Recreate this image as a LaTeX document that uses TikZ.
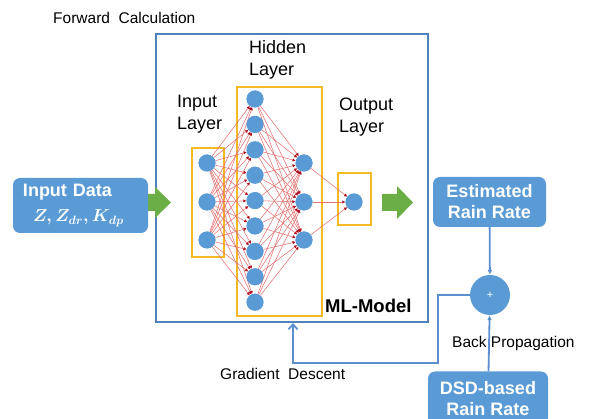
\documentclass[tikz,border=0pt]{standalone}
\usepackage{fontspec}
\setmainfont{Liberation Sans}
\usetikzlibrary{arrows.meta}
\definecolor{nblue}{HTML}{5B9BD5}
\definecolor{mlblue}{HTML}{4F81BD}
\definecolor{lblue}{HTML}{5B8FD0}
\definecolor{ybox}{HTML}{F5B921}
\definecolor{garrow}{HTML}{6AAE45}
\definecolor{wred}{HTML}{E57373}
\definecolor{dred}{HTML}{B01020}
\begin{document}
\begin{tikzpicture}[x=1pt,y=-1pt,
  neuron/.style={circle,fill=nblue,inner sep=0pt,minimum size=17pt},
  layerbox/.style={draw=ybox,line width=1.8pt},
  wire/.style={draw=wred,line width=0.55pt,-{Latex[length=3pt,width=3.5pt,color=dred]}},
  databox/.style={fill=nblue,rounded corners=7pt,text=white,font=\fontsize{18}{21}\selectfont\bfseries,inner sep=0pt},
  lbl/.style={font=\fontsize{18}{22}\selectfont,align=left,inner sep=0pt},
  sml/.style={font=\fontsize{15.5}{18}\selectfont,inner sep=0pt},
  fb/.style={draw=lblue,line width=1.8pt},
  fbarrow/.style={fb,-{Straight Barb[length=5pt,width=9pt]}},
  inarrow/.style={fb,-{Latex[length=5pt,width=5pt]}}
]
\useasboundingbox (0,0) rectangle (590,419);

% ML model frame
\node[draw=mlblue,line width=2pt,minimum width=272pt,minimum height=288pt,inner sep=0pt] (ml) at (292,178) {};

% layer boxes
\node[layerbox,minimum width=32pt,minimum height=109pt,inner sep=0pt] (ibox) at (208,202.5) {};
\node[layerbox,minimum width=85pt,minimum height=229pt,inner sep=0pt] (hbox) at (279.5,201.5) {};
\node[layerbox,minimum width=33pt,minimum height=52pt,inner sep=0pt] (obox) at (354.5,199) {};

% neurons
\foreach \i/\y in {1/163,2/202,3/240} {
  \node[neuron] (i\i) at (207,\y) {};
  \node[neuron] (s\i) at (304,\y) {};
}
\foreach \i in {1,...,9} {
  \node[neuron] (h\i) at (255,{99+(\i-1)*25.4}) {};
}
\node[neuron] (o1) at (354,202) {};

% wires
\foreach \a in {1,2,3} {
  \foreach \b in {1,...,9} {
    \draw[wire] (i\a) -- (h\b);
    \draw[wire] (h\b) -- (s\a);
  }
  \draw[wire] (s\a) -- (o1);
}
% redraw neurons on top
\foreach \i in {1,2,3} {
  \node[neuron] at (i\i) {};
  \node[neuron] at (s\i) {};
}
\foreach \i in {1,...,9} { \node[neuron] at (h\i) {}; }
\node[neuron] at (o1) {};

% labels
\node[sml,anchor=west] (fwd) at (53,18) {Forward\ \ Calculation};
\node[lbl,anchor=north west] (hl) at (249,40) {Hidden\\Layer};
\node[lbl,anchor=north west] (il) at (177,95) {Input\\Layer};
\node[lbl,anchor=north west] (ol) at (339,98) {Output\\Layer};
\node[font=\fontsize{18.5}{22}\selectfont\bfseries,anchor=west,inner sep=0pt] (mlt) at (325,306) {ML-Model};

% green arrows
\fill[garrow] (140,194) -- (155,194) -- (155,187) -- (171,202.5) -- (155,218) -- (155,211) -- (140,211) -- cycle;
\fill[garrow] (382,194) -- (397,194) -- (397,186) -- (413,202.5) -- (397,219) -- (397,211) -- (382,211) -- cycle;

% data boxes
\node[databox,minimum width=135pt,minimum height=55pt,text width=115pt,align=left] (in) at (80.5,205.5)
  {Input Data\\[4pt]\hspace*{10pt}{\boldmath$Z, Z_{dr}, K_{dp}$}};
\node[databox,minimum width=113pt,minimum height=50pt,align=center] (est) at (489.5,202) {Estimated\\Rain Rate};
\node[databox,minimum width=120pt,minimum height=54pt,align=center] (dsd) at (488,398.5) {DSD-based\\Rain Rate};
\node[circle,fill=nblue,minimum size=40pt,inner sep=0pt,text=white,font=\fontsize{11}{12}\selectfont] (sum) at (490,295) {+};

% connectors
\draw[inarrow] (est) -- (sum);
\draw[inarrow] (dsd) -- (sum);
\coordinate (bp) at (438,363);
\coordinate (gd) at (293,363);
\draw[fbarrow] (sum.west) -| (bp) -- (gd) -- (gd |- ml.south);

\node[sml,anchor=west] (bpl) at (452,343) {Back Propagation};
\node[sml,anchor=west] (gdl) at (220,374) {Gradient\ \ Descent};
\end{tikzpicture}
\end{document}
